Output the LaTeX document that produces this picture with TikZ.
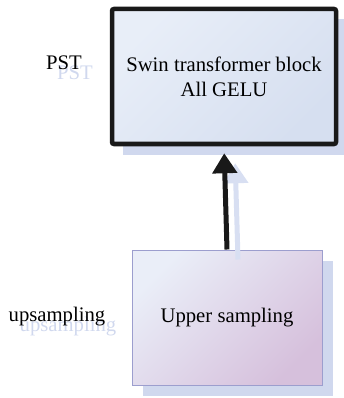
\documentclass[tikz,border=0pt]{standalone}
\usepackage{fontspec}
\setmainfont{Liberation Serif}
\usetikzlibrary{arrows.meta}
\definecolor{ghost}{HTML}{D0D8EE}
\definecolor{ghostarrow}{HTML}{D8DFF2}
\definecolor{boxline}{HTML}{9C9ECE}
\begin{document}
\begin{tikzpicture}[x=1pt,y=-1pt]

\def \dx {11} % offset of the pale copy
\def \dy {10}

\useasboundingbox (0,0) rectangle (343,398);

\begin{scope}[every node/.style={font=\fontsize{20.7}{25}\selectfont,align=center},
  block/.style={rectangle,minimum width=224pt,minimum height=135pt},
  up arrow/.style={line width=5pt,-{Triangle[width=24pt,length=20pt]}}]

% pale copies
\fill[ghost] (123,19) rectangle (350,155);
\fill[ghost] (143,261) rectangle (333,396);
\node[text=ghost] (pst ghost) at (64+\dx,63+\dy) {PST};
\node[text=ghost] (up ghost) at (57+\dx,317+\dy) {upsampling};

% blocks
\node[block,draw=black!90,line width=4.5pt,rounded corners=2pt,
  top color={rgb,255:red,232;green,238;blue,248},bottom color={rgb,255:red,214;green,223;blue,240},shading angle=45]
  (swin) at (224,76.5) {Swin transformer block\\All GELU};
\node[block,minimum width=190pt,draw=boxline,line width=1pt,
  top color={rgb,255:red,234;green,238;blue,248},bottom color={rgb,255:red,214;green,192;blue,220},shading angle=45]
  (upper) at (227,317.5) {Upper sampling};

\node (pst) at (64,63) {PST};
\node (ups) at (57,317) {upsampling};

% connector and its copy
\draw[up arrow,ghostarrow,transform canvas={shift={(\dx pt,-\dy pt)}},shorten >=7pt]
  (upper.north) -- (swin.south);
\draw[up arrow,black!90,shorten >=7pt] (upper.north) -- (swin.south);
\end{scope}

\end{tikzpicture}
\end{document}
